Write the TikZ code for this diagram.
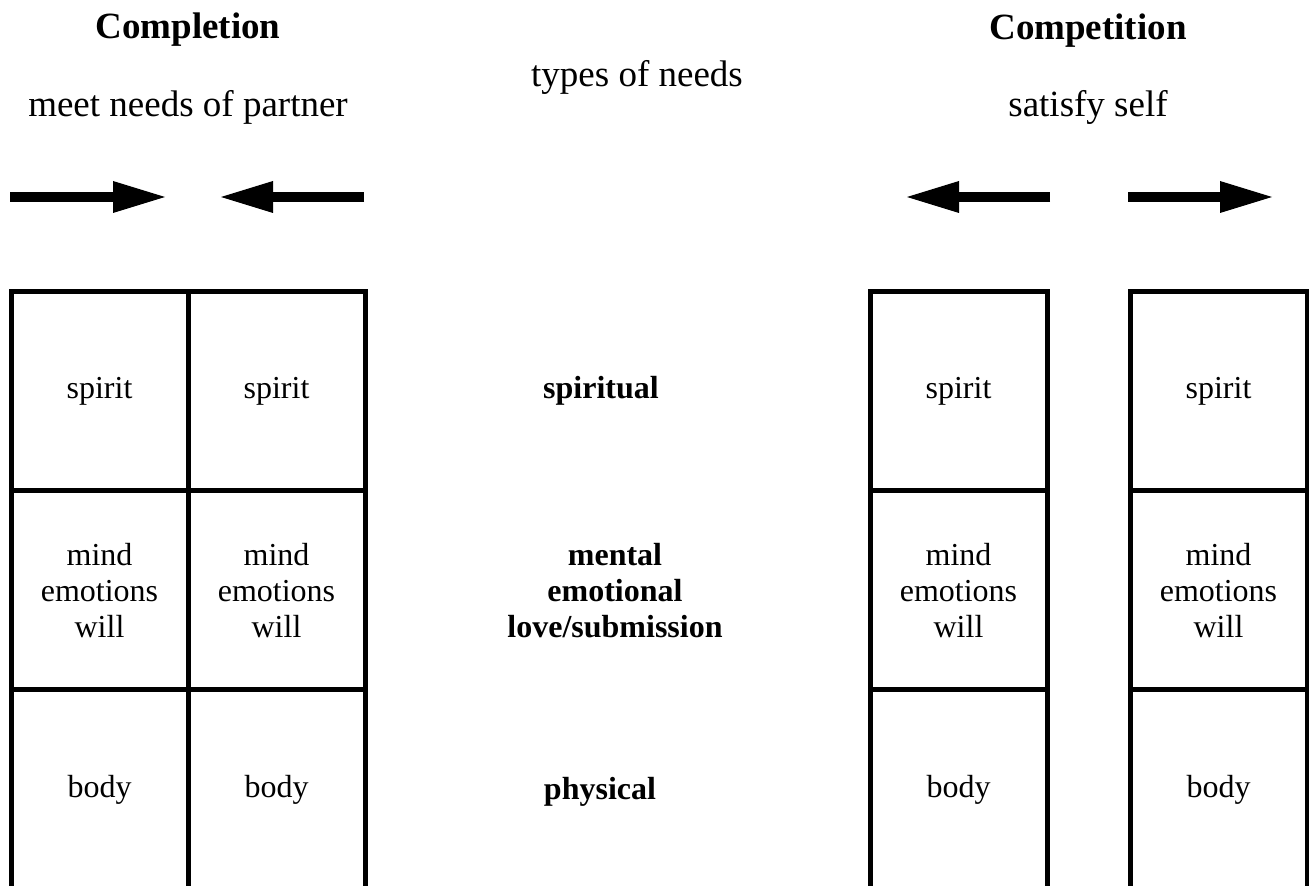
\documentclass[tikz,border=0pt]{standalone}
\usepackage{fontspec}
\setmainfont{Liberation Serif}
\usetikzlibrary{arrows.meta,positioning}

\begin{document}
\begin{tikzpicture}[x=1pt, y=1pt, node distance=0pt,
    cell/.style={draw, line width=5pt, minimum width=177pt, minimum height=199pt,
      inner sep=0pt, outer sep=0pt, align=center, font=\fontsize{32}{36}\selectfont},
    needtext/.style={align=center, font=\fontsize{32}{36}\selectfont\bfseries},
    titletext/.style={font=\fontsize{37}{44}\selectfont\bfseries, anchor=base},
    subtext/.style={font=\fontsize{37}{44}\selectfont, anchor=base},
    big arrow/.style={line width=10pt, -{Triangle[length=52pt, width=32pt, line width=0pt]}}]
      \useasboundingbox (0,0) rectangle (1309,886);
      \node (Compl) [titletext] at (188,847) {Completion};
      \node (ComplSub) [subtext] at (188,769) {meet needs of partner};
      \node (Types) [subtext] at (637,799) {types of needs};
      \node (Compt) [titletext] at (1088,846) {Competition};
      \node (ComptSub) [subtext] at (1088,769) {satisfy self};
      \coordinate (inA) at (10,689);
      \coordinate (inAtip) at (165,689);
      \coordinate (inB) at (364,689);
      \coordinate (inBtip) at (221,689);
      \coordinate (outA) at (1050,689);
      \coordinate (outAtip) at (907,689);
      \coordinate (outB) at (1128,689);
      \coordinate (outBtip) at (1272,689);
      \node (SpiritL1) [cell] at (99.5,494.5) {spirit};
      \node (MindL1) [cell, below=of SpiritL1] {mind\\emotions\\will};
      \node (BodyL1) [cell, below=of MindL1] {body};
      \node (SpiritL2) [cell, right=of SpiritL1] {spirit};
      \node (MindL2) [cell, below=of SpiritL2] {mind\\emotions\\will};
      \node (BodyL2) [cell, below=of MindL2] {body};
      \node (Spiritual) [needtext] at (601,495) {spiritual};
      \node (Mental) [needtext] at (615,295) {mental\\emotional\\love/submission};
      \node (Physical) [needtext] at (600,94) {physical};
      \node (SpiritR1) [cell] at (958.5,494.5) {spirit};
      \node (MindR1) [cell, below=of SpiritR1] {mind\\emotions\\will};
      \node (BodyR1) [cell, below=of MindR1] {body};
      \node (SpiritR2) [cell] at (1218.5,494.5) {spirit};
      \node (MindR2) [cell, below=of SpiritR2] {mind\\emotions\\will};
      \node (BodyR2) [cell, below=of MindR2] {body};
      \draw[big arrow] (inA) to (inAtip);
      \draw[big arrow] (inB) to (inBtip);
      \draw[big arrow] (outA) to (outAtip);
      \draw[big arrow] (outB) to (outBtip);
    \end{tikzpicture}
\end{document}
